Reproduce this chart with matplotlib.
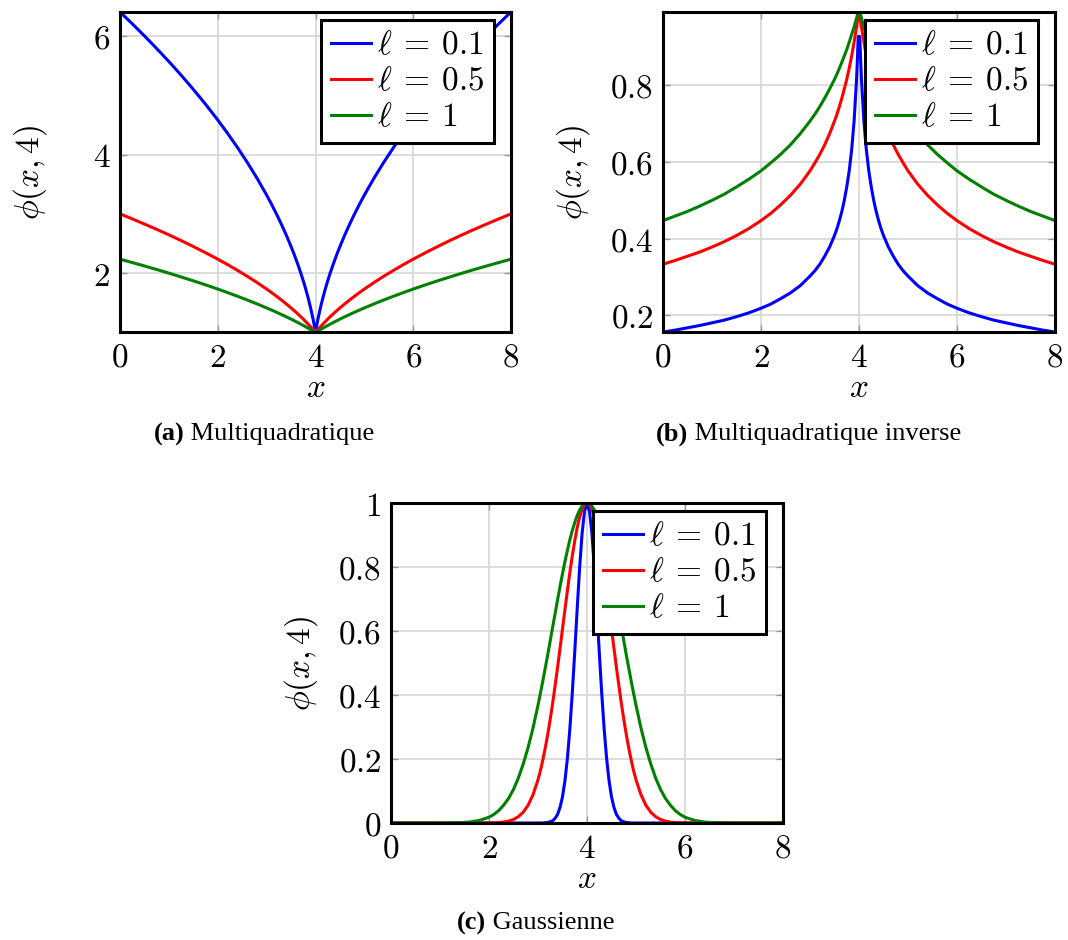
import numpy as np
import matplotlib
matplotlib.use('Agg')
import matplotlib.pyplot as plt

plt.rcParams['mathtext.fontset'] = 'cm'
plt.rcParams['font.family'] = ['DejaVu Serif']

# distance |x - 4| at which the curves are sampled (each side of x = 4)
offsets_mq = [0.016, 0.03, 0.05, 0.1, 0.15, 0.2, 0.25, 0.3, 0.35, 0.4, 0.45, 0.5,
              0.6, 0.7, 0.8, 0.9, 1.0, 1.2, 1.4, 1.6, 1.8, 2.0, 2.25, 2.5, 2.75,
              3.0, 3.25, 3.5, 3.75, 4.0]
offsets_g = [0.0, 0.05, 0.1, 0.15, 0.2, 0.25, 0.3, 0.35, 0.4, 0.45, 0.5, 0.55,
             0.6, 0.65, 0.7, 0.75, 0.8, 0.85, 0.9, 0.95, 1.0, 1.1, 1.2, 1.3,
             1.4, 1.5, 1.6, 1.7, 1.8, 1.9, 2.0, 2.2, 2.4, 2.6, 2.8, 3.0, 3.5, 4.0]

# (a) Multiquadratique
mq_l01 = [1.077, 1.140, 1.225, 1.414, 1.581, 1.732, 1.871, 2.000, 2.121, 2.236,
          2.345, 2.449, 2.646, 2.828, 3.000, 3.162, 3.317, 3.606, 3.873, 4.123,
          4.359, 4.583, 4.848, 5.099, 5.339, 5.568, 5.788, 6.000, 6.205, 6.403]
mq_l05 = [1.016, 1.030, 1.049, 1.095, 1.140, 1.183, 1.225, 1.265, 1.304, 1.342,
          1.378, 1.414, 1.483, 1.549, 1.612, 1.673, 1.732, 1.844, 1.949, 2.049,
          2.145, 2.236, 2.345, 2.449, 2.550, 2.646, 2.739, 2.828, 2.915, 3.000]
mq_l1 = [1.008, 1.015, 1.025, 1.049, 1.072, 1.095, 1.118, 1.140, 1.162, 1.183,
         1.204, 1.225, 1.265, 1.304, 1.342, 1.378, 1.414, 1.483, 1.549, 1.612,
         1.673, 1.732, 1.803, 1.871, 1.936, 2.000, 2.062, 2.121, 2.179, 2.236]

# (b) Multiquadratique inverse
imq_l01 = [0.928, 0.877, 0.816, 0.707, 0.632, 0.577, 0.535, 0.500, 0.471, 0.447,
           0.426, 0.408, 0.378, 0.354, 0.333, 0.316, 0.302, 0.277, 0.258, 0.243,
           0.229, 0.218, 0.206, 0.196, 0.187, 0.180, 0.173, 0.167, 0.161, 0.156]
imq_l05 = [0.984, 0.971, 0.953, 0.913, 0.877, 0.845, 0.816, 0.791, 0.767, 0.745,
           0.725, 0.707, 0.674, 0.645, 0.620, 0.598, 0.577, 0.542, 0.513, 0.488,
           0.466, 0.447, 0.426, 0.408, 0.392, 0.378, 0.365, 0.354, 0.343, 0.333]
imq_l1 = [0.992, 0.985, 0.976, 0.953, 0.933, 0.913, 0.894, 0.877, 0.861, 0.845,
          0.830, 0.816, 0.791, 0.767, 0.745, 0.725, 0.707, 0.674, 0.645, 0.620,
          0.598, 0.577, 0.555, 0.535, 0.516, 0.500, 0.485, 0.471, 0.459, 0.447]

# (c) Gaussienne
g_l01 = [1.000, 0.975, 0.905, 0.799, 0.670, 0.535, 0.407, 0.294, 0.202, 0.132,
         0.082, 0.049, 0.027, 0.015, 0.007, 0.004, 0.002, 0.001, 0.000, 0.000,
         0.0, 0.0, 0.0, 0.0, 0.0, 0.0, 0.0, 0.0, 0.0, 0.0,
         0.0, 0.0, 0.0, 0.0, 0.0, 0.0, 0.0, 0.0]
g_l05 = [1.000, 0.995, 0.980, 0.956, 0.923, 0.882, 0.835, 0.783, 0.726, 0.667,
         0.607, 0.546, 0.487, 0.430, 0.375, 0.325, 0.278, 0.236, 0.198, 0.164,
         0.135, 0.089, 0.056, 0.034, 0.020, 0.011, 0.006, 0.003, 0.0015, 0.0007,
         0.0003, 0.0, 0.0, 0.0, 0.0, 0.0, 0.0, 0.0]
g_l1 = [1.000, 0.998, 0.990, 0.978, 0.961, 0.939, 0.914, 0.885, 0.852, 0.817,
        0.779, 0.739, 0.698, 0.655, 0.613, 0.570, 0.527, 0.486, 0.445, 0.406,
        0.368, 0.298, 0.237, 0.185, 0.141, 0.105, 0.077, 0.056, 0.039, 0.027,
        0.018, 0.008, 0.003, 0.001, 0.0004, 0.0001, 0.0, 0.0]

series_labels = [r'$\ell\:=\:0.1$', r'$\ell\:=\:0.5$', r'$\ell\:=\:1$']
series_colors = ['#0000ff', '#ff0000', '#008000']
x_ticks = [0, 2, 4, 6, 8]
y_ticks_a = [2, 4, 6]
y_ticks_b = [0.2, 0.4, 0.6, 0.8]
y_ticks_c = [0, 0.2, 0.4, 0.6, 0.8, 1]
captions = [('(a)', 'Multiquadratique'),
            ('(b)', 'Multiquadratique inverse'),
            ('(c)', 'Gaussienne')]


def full_curve(offsets, vals):
    r = np.asarray(offsets)
    v = np.asarray(vals)
    x = np.concatenate([4 - r[::-1], 4 + r])
    y = np.concatenate([v[::-1], v])
    return x, y


def fmt(v):
    return '$' + ('%g' % v) + '$'


W, H = 1068, 940
fig = plt.figure(figsize=(W / 100, H / 100), dpi=100)

FS = 24
LW = 2.2


def make_axes(px_left, px_top, px_w, px_h, offsets, data, yticks):
    ax = fig.add_axes([px_left / W, 1 - (px_top + px_h) / H, px_w / W, px_h / H])
    allv = []
    for vals, col, lab in zip(data, series_colors, series_labels):
        x, y = full_curve(offsets, vals)
        ax.plot(x, y, color=col, lw=LW, label=lab, solid_joinstyle='round', zorder=3)
        allv.extend(vals)
    ax.set_xlim(0, 8)
    ax.set_ylim(min(allv), max(allv))
    ax.set_xticks(x_ticks)
    ax.set_xticklabels([fmt(v) for v in x_ticks])
    ax.set_yticks(yticks)
    ax.set_yticklabels([fmt(v) for v in yticks])
    ax.tick_params(direction='in', length=5, width=1, color='#999999',
                   labelsize=FS, pad=7, top=True, right=True)
    ax.grid(True, color='#d6d6d6', lw=1.2, zorder=0)
    ax.set_axisbelow(True)
    for s in ax.spines.values():
        s.set_linewidth(2.2)
        s.set_zorder(5)
    ax.set_xlabel(r'$x$', fontsize=FS, va='center')
    ax.xaxis.set_label_coords(0.5, -56 / px_h)
    ax.set_ylabel(r'$\phi(x,4)$', fontsize=FS, va='center')
    ax.yaxis.set_label_coords(-90 / px_w, 0.5)
    leg = ax.legend(loc='upper right', bbox_to_anchor=(1 - 17 / px_w, 1 - 8 / px_h),
                    bbox_transform=ax.transAxes, borderaxespad=0,
                    fontsize=FS, fancybox=False, framealpha=1, edgecolor='black',
                    handlelength=1.2, handletextpad=0.2, labelspacing=0.12,
                    borderpad=0.28)
    leg.get_frame().set_linewidth(2.2)
    leg.set_zorder(6)
    return ax


make_axes(120, 12, 391, 320, offsets_mq, [mq_l01, mq_l05, mq_l1], y_ticks_a)
make_axes(663, 12, 392, 320, offsets_mq, [imq_l01, imq_l05, imq_l1], y_ticks_b)
make_axes(391, 503, 392, 320, offsets_g, [g_l01, g_l05, g_l1], y_ticks_c)

# captions
cap_centers = [(264, 434), (809, 434), (536, 923)]
fig.canvas.draw()
renderer = fig.canvas.get_renderer()
for (bold, rest), (cx, cy) in zip(captions, cap_centers):
    tb = fig.text(0, 1 - cy / H, bold, fontsize=19, fontweight='bold',
                  family='Liberation Serif', va='center', ha='left')
    tr = fig.text(0, 1 - cy / H, ' ' + rest, fontsize=19,
                  family='Liberation Serif', va='center', ha='left')
    wb = tb.get_window_extent(renderer).width
    wr = tr.get_window_extent(renderer).width
    x0 = cx - (wb + wr) / 2
    tb.set_x(x0 / W)
    tr.set_x((x0 + wb) / W)

fig.savefig('out.png', dpi=100)
